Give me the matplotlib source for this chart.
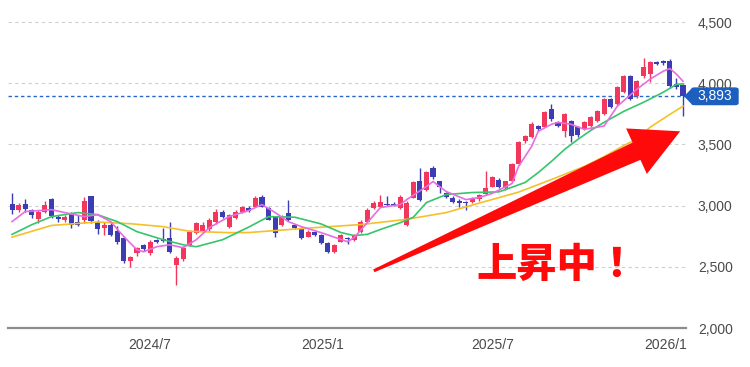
import numpy as np
import pandas as pd
import matplotlib
matplotlib.use("Agg")
import matplotlib.pyplot as plt
import matplotlib.dates as mdates
from matplotlib.patches import Polygon, FancyBboxPatch

plt.rcParams["font.family"] = ["Liberation Sans", "DejaVu Sans"]

# weekly candles (week start dates), last one is the week of 2026-01-19
last_week = "2026-01-19"
opens = [3010, 2965, 3010, 2960, 2890, 2945, 3050, 2910, 2880, 2930,
         2870, 2885, 3075, 2870, 2815, 2845, 2790, 2738, 2545, 2615,
         2680, 2615, 2715, 2725, 2738, 2517, 2560, 2680, 2780, 2790,
         2805, 2862, 2951, 2825, 2900, 2951, 2984, 2992, 3074, 2984,
         2910, 2845, 2943, 2845, 2820, 2746, 2787, 2762, 2697, 2623,
         2705, 2735, 2721, 2787, 2869, 2984, 2992, 3015, 3015, 2984,
         2845, 3066, 3197, 3131, 3311, 3197, 3107, 3066, 3040, 3030,
         3030, 3050, 3095, 3156, 3213, 3140, 3197, 3340, 3525, 3560,
         3648, 3645, 3787, 3680, 3607, 3689, 3640, 3623, 3648, 3690,
         3750, 3869, 3828, 3926, 4057, 3893, 4057, 4074, 4172, 4180,
         4180, 3992, 3984]
closes = [2965, 3005, 2975, 2920, 2945, 3005, 2915, 2890, 2910, 2840,
          2845, 3040, 2875, 2810, 2845, 2760, 2705, 2545, 2580, 2655,
          2645, 2705, 2705, 2712, 2625, 2574, 2656, 2787, 2860, 2845,
          2885, 2950, 2910, 2925, 2950, 2992, 2955, 3066, 2992, 2885,
          2779, 2910, 2885, 2820, 2738, 2787, 2762, 2697, 2623, 2680,
          2762, 2725, 2762, 2869, 2967, 3025, 3033, 3005, 3005, 3074,
          3025, 3189, 3049, 3271, 3230, 3148, 3074, 3033, 3020, 3020,
          3060, 3085, 3140, 3230, 3150, 3197, 3340, 3516, 3566, 3664,
          3625, 3762, 3705, 3650, 3746, 3566, 3580, 3680, 3721, 3770,
          3869, 3803, 3967, 4057, 3869, 4016, 4131, 4172, 4156, 4165,
          3976, 3967, 3893]
highs = [3100, 3020, 3050, 2970, 2960, 3040, 3060, 2920, 2925, 2950,
         2920, 3070, 3080, 2880, 2870, 2860, 2830, 2750, 2590, 2665,
         2690, 2715, 2730, 2820, 2869, 2590, 2670, 2800, 2870, 2870,
         2900, 2975, 2965, 2935, 2960, 3000, 2995, 3080, 3090, 2990,
         2915, 2920, 3049, 2850, 2825, 2800, 2795, 2770, 2700, 2690,
         2770, 2745, 2770, 2880, 2980, 3040, 3090, 3080, 3030, 3090,
         3040, 3200, 3311, 3280, 3320, 3205, 3115, 3075, 3050, 3040,
         3070, 3095, 3279, 3240, 3225, 3205, 3350, 3530, 3580, 3680,
         3660, 3775, 3828, 3690, 3760, 3700, 3650, 3690, 3730, 3780,
         3880, 3880, 3980, 4070, 4070, 4030, 4205, 4180, 4185, 4190,
         4195, 4040, 3990]
lows = [2930, 2950, 2950, 2900, 2860, 2940, 2900, 2870, 2870, 2820,
        2830, 2860, 2860, 2770, 2760, 2750, 2690, 2530, 2500, 2590,
        2630, 2600, 2695, 2700, 2615, 2352, 2550, 2670, 2770, 2780,
        2790, 2850, 2900, 2815, 2890, 2940, 2945, 2985, 2985, 2880,
        2746, 2835, 2875, 2810, 2730, 2740, 2750, 2690, 2615, 2615,
        2700, 2690, 2710, 2780, 2860, 2975, 2985, 2995, 2995, 2975,
        2830, 3060, 3040, 3120, 3220, 3100, 3065, 3025, 2990, 2960,
        3020, 3040, 3085, 3150, 3140, 3130, 3190, 3330, 3515, 3550,
        3610, 3640, 3695, 3640, 3560, 3516, 3560, 3615, 3640, 3680,
        3740, 3795, 3820, 3920, 3860, 3880, 4040, 4010, 4145, 4150,
        3960, 3950, 3730]

# moving averages (candle index -> value)
ma_short_idx = [0, 2, 6, 8, 11, 13, 15, 17, 19, 20, 22, 24, 26, 28, 30, 33,
                36, 38, 40, 42, 44, 47, 51, 52, 54, 56, 59, 60, 63, 64, 66,
                69, 71, 73, 76, 77, 79, 80, 82, 83, 85, 87, 90, 92, 95, 97,
                99, 100, 101, 102]
ma_short = [2869, 2951, 2967, 2943, 2910, 2926, 2869, 2746, 2639, 2623,
            2664, 2680, 2656, 2721, 2820, 2910, 2960, 3008, 2943, 2869,
            2828, 2779, 2705, 2738, 2861, 2984, 3008, 3049, 3156, 3197,
            3115, 3049, 3066, 3100, 3180, 3320, 3484, 3607, 3664, 3680,
            3664, 3623, 3650, 3811, 3951, 4033, 4098, 4120, 4074, 4016]
ma_mid_idx = [0, 3, 6, 10, 13, 16, 19, 23, 26, 28, 32, 36, 39, 43, 47, 50,
              52, 54, 56, 59, 61, 63, 66, 70, 74, 75, 78, 80, 82, 84, 86,
              88, 90, 93, 96, 99, 101, 102]
ma_mid = [2765, 2844, 2910, 2943, 2926, 2869, 2787, 2721, 2680, 2664,
          2721, 2825, 2910, 2905, 2850, 2780, 2755, 2765, 2805, 2860,
          2905, 3025, 3090, 3107, 3112, 3131, 3189, 3270, 3361, 3459,
          3540, 3615, 3680, 3770, 3844, 3926, 3990, 3995]
ma_long_idx = [0, 6, 13, 18, 23, 27, 33, 36, 46, 53, 60, 66, 71, 77, 82,
               87, 90, 93, 95, 97, 100, 102]
ma_long = [2742, 2838, 2866, 2852, 2828, 2790, 2779, 2780, 2820, 2845,
           2888, 2943, 3020, 3110, 3213, 3320, 3400, 3490, 3545, 3640,
           3745, 3812]

last_price = 3893
y_ticks = [2000, 2500, 3000, 3500, 4000, 4500]
x_tick_dates = ["2024-07-01", "2025-01-01", "2025-07-01", "2026-01-01"]
x_tick_labels = ["2024/7", "2025/1", "2025/7", "2026/1"]

annotation = "上昇中！"
arrow_tail = ("2025-02-24", 2467)
arrow_tip = ("2026-01-16", 3607)
annotation_pos = ("2025-06-13", 2518)

RED = "#f2365c"
BLUE = "#3c3cb4"

dates = pd.date_range(end=last_week, periods=len(closes), freq="7D")
xd = mdates.date2num(dates)
o = np.array(opens, float)
c = np.array(closes, float)
h = np.array(highs, float)
l = np.array(lows, float)
up = c >= o
cols = np.where(up, RED, BLUE)

fig = plt.figure(figsize=(7.5, 3.67), dpi=100)
ax = fig.add_axes([8 / 750, 39 / 367, 678 / 750, 318 / 367])

ax.vlines(xd, l, h, colors=cols, lw=1.0, zorder=3)
body_lo = np.minimum(o, c)
body_h = np.maximum(np.abs(c - o), 9)
ax.bar(xd, body_h, bottom=body_lo, width=5.4, color=cols, lw=0, zorder=4)

ax.plot(xd[ma_long_idx], ma_long, color="#f5c02a", lw=1.2, zorder=5)
ax.plot(xd[ma_mid_idx], ma_mid, color="#36c46c", lw=1.2, zorder=5)
ax.plot(xd[ma_short_idx], ma_short, color="#e76de0", lw=1.2, zorder=5)

ax.axhline(last_price, color="#2a66c8", lw=1.0, ls=(0, (2.5, 2)), zorder=2)

ax.set_xlim(xd[0] - 4.3, xd[-1] + 3.2)
ax.set_ylim(2000, 2000 + 318 * 8.17)

ax.set_yticks(y_ticks)
ax.set_yticklabels([f"{v:,}" for v in y_ticks])
ax.yaxis.tick_right()
ax.set_xticks(mdates.date2num(pd.to_datetime(x_tick_dates)))
ax.set_xticklabels(x_tick_labels)
ax.tick_params(axis="y", length=0, pad=8.5, labelsize=10, labelcolor="#4a4a4a")
ax.tick_params(axis="x", length=0, pad=7, labelsize=10, labelcolor="#4a4a4a")

ax.grid(axis="y", color="#cfcfcf", lw=0.8, ls=(0, (3, 3)), zorder=0)
for side in ("top", "left", "right"):
    ax.spines[side].set_visible(False)
ax.spines["bottom"].set_color("#8c8c8c")
ax.spines["bottom"].set_linewidth(1.6)
ax.spines["bottom"].set_zorder(6)

# price tag on the right
to_fig = fig.transFigure.inverted()
py = ax.transData.transform((xd[0], last_price))[1]
right = ax.transAxes.transform((1, 0))[0]
tag_h = 16.5
tri = np.array([[right - 1, py], [right + 7, py + tag_h / 2],
                [right + 7, py - tag_h / 2]])
fig.add_artist(Polygon(to_fig.transform(tri), closed=True, color="#1c5fbf",
                       transform=fig.transFigure, zorder=7))
lo = to_fig.transform((right + 6, py - tag_h / 2))
hi = to_fig.transform((right + 52, py + tag_h / 2))
fig.add_artist(FancyBboxPatch(lo, hi[0] - lo[0], hi[1] - lo[1],
                              boxstyle="round,pad=0,rounding_size=0.004",
                              color="#1c5fbf", transform=fig.transFigure,
                              zorder=7))
fig.text(*to_fig.transform((right + 29, py)), f"{last_price:,}", color="white",
         fontsize=10, ha="center", va="center", zorder=8)

# big red arrow
t0 = ax.transData.transform((mdates.datestr2num(arrow_tail[0]), arrow_tail[1]))
t1 = ax.transData.transform((mdates.datestr2num(arrow_tip[0]), arrow_tip[1]))
d = t1 - t0
length = np.hypot(*d)
u = d / length
n = np.array([-u[1], u[0]])
base = t1 - u * 48
pts = np.array([
    t0 + n * 1.5,
    base + n * 9.5,
    base + n * 25,
    t1,
    base - n * 25,
    base - n * 9.5,
    t0 - n * 1.5,
])
fig.add_artist(Polygon(to_fig.transform(pts), closed=True, color="#ff0a0a",
                       lw=0, transform=fig.transFigure, zorder=9))

ax.text(mdates.datestr2num(annotation_pos[0]), annotation_pos[1], annotation,
        color="#ff0a0a", fontsize=29, fontweight="heavy",
        family=["Noto Sans CJK JP", "DejaVu Sans"],
        ha="left", va="center", zorder=10)

fig.savefig("out.png", dpi=100, facecolor="white")
